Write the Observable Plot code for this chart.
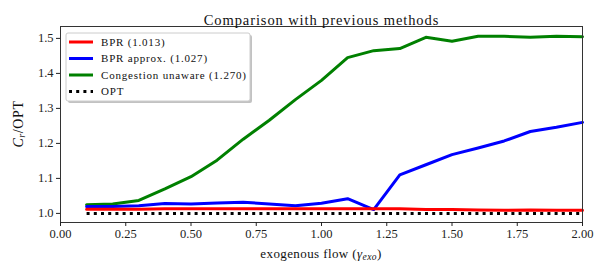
<!DOCTYPE html>
<html><head><meta charset="utf-8">
<script src="https://cdn.jsdelivr.net/npm/d3@7"></script>
<script src="https://cdn.jsdelivr.net/npm/@observablehq/plot@0.6"></script>
<style>
body{margin:0;background:#fff;}
svg text{font-family:"Liberation Serif",serif !important;}
</style></head><body><div id="chart"></div>
<script>
const flows = [0.1,0.2,0.3,0.4,0.5,0.6,0.7,0.8,0.9,1.0,1.1,1.2,1.3,1.4,1.5,1.6,1.7,1.8,1.9,2.0];
const bpr = [1.012,1.012,1.012,1.013,1.013,1.013,1.013,1.013,1.013,1.013,1.013,1.013,1.013,1.011,1.011,1.010,1.009,1.010,1.009,1.009];
const bprApprox = [1.020,1.020,1.022,1.028,1.027,1.030,1.032,1.027,1.022,1.029,1.042,1.011,1.110,1.139,1.168,1.187,1.207,1.234,1.246,1.260];
const unaware = [1.025,1.027,1.037,1.070,1.105,1.152,1.212,1.266,1.325,1.380,1.445,1.465,1.471,1.503,1.492,1.506,1.506,1.503,1.506,1.505];
const opt = [1,1,1,1,1,1,1,1,1,1,1,1,1,1,1,1,1,1,1,1];
const seriesNames = ["BPR (1.013)","BPR approx. (1.027)","Congestion unaware (1.270)","OPT"];
const seriesColors = ["#ff0000","#0000ff","#008000","#000000"];
const xTicks = [0,0.25,0.5,0.75,1.0,1.25,1.5,1.75,2.0];
const yTicks = [1.0,1.1,1.2,1.3,1.4,1.5];
const title = "Comparison with previous methods";

const mk = (vals) => flows.map((x,i)=>({x, y: vals[i]}));
const W=606,H=264, mL=60, mR=24, mT=26, mB=42;
const FF = "Liberation Serif";

const plot = Plot.plot({
  width: W, height: H,
  marginLeft: mL, marginRight: mR, marginTop: mT, marginBottom: mB,
  style: {fontFamily: FF, fontSize: "12.5px", color:"#222", background:"#fff"},
  x: {domain:[0,2], label: null},
  y: {domain:[0.974,1.534], label: null},
  marks: [
    Plot.line(mk(unaware), {x:"x", y:"y", stroke: seriesColors[2], strokeWidth: 3}),
    Plot.line(mk(bprApprox), {x:"x", y:"y", stroke: seriesColors[1], strokeWidth: 3}),
    Plot.line(mk(bpr), {x:"x", y:"y", stroke: seriesColors[0], strokeWidth: 3}),
    Plot.line(mk(opt), {x:"x", y:"y", stroke: seriesColors[3], strokeWidth: 3, strokeDasharray:"3,4.2", strokeLinecap:"butt"}),
    Plot.frame({stroke:"#333", strokeWidth:1}),
    Plot.axisX({ticks: xTicks, tickFormat: d3.format(".2f"), tickSize: 4, tickPadding: 3, label: null, fontSize: 12.5, fill:"#222"}),
    Plot.axisY({ticks: yTicks, tickFormat: d3.format(".1f"), tickSize: 4, tickPadding: 3, label: null, fontSize: 12.5, fill:"#222"}),
    Plot.text([title], {frameAnchor:"top", dy:-12, fontSize:14.5, fill:"#111"})
  ]
});
document.getElementById("chart").appendChild(plot);
const svg = d3.select(plot);
// widen title a bit to mimic Computer Modern
svg.selectAll("text").filter(function(){return this.textContent===title;}).attr("letter-spacing","0.9px");

// axis labels
const xl = svg.append("text").attr("x", mL + (W-mL-mR)/2).attr("y", H-6)
  .attr("text-anchor","middle").attr("font-size",13).attr("fill","#111").attr("letter-spacing","0.4px");
xl.append("tspan").text("exogenous flow (");
xl.append("tspan").attr("font-style","italic").text("γ");
xl.append("tspan").attr("font-style","italic").attr("font-size",9.5).attr("dy",2).text("exo");
xl.append("tspan").attr("dy",-2).text(")");

const yl = svg.append("text").attr("transform",`translate(23,124) rotate(-90)`)
  .attr("text-anchor","middle").attr("font-size",14).attr("fill","#111").attr("letter-spacing","0.6px");
yl.append("tspan").attr("font-style","italic").text("C");
yl.append("tspan").attr("font-style","italic").attr("font-size",10).attr("dy",2).text("r");
yl.append("tspan").attr("dy",-2).text("/OPT");

// legend
const lg = svg.append("g").attr("transform",`translate(${mL+6},${mT+7})`);
const lw=184, lh=68;
lg.append("rect").attr("x",2).attr("y",2).attr("width",lw).attr("height",lh).attr("rx",2).attr("fill","#999").attr("opacity",0.6);
lg.append("rect").attr("x",0).attr("y",0).attr("width",lw).attr("height",lh).attr("rx",2).attr("fill","#fff").attr("stroke","#ccc");
seriesNames.forEach((name,i)=>{
  const yy = 9 + i*16.5;
  const ln = lg.append("line").attr("x1",3).attr("x2",27).attr("y1",yy).attr("y2",yy)
    .attr("stroke",seriesColors[i]).attr("stroke-width",3);
  if(i===3) ln.attr("stroke-dasharray","3,4.2");
  lg.append("text").attr("x",35).attr("y",yy).attr("dy","0.35em").attr("text-anchor","start")
    .attr("font-size",11).attr("letter-spacing","0.8px").attr("fill","#111").text(name);
});
</script></body></html>
